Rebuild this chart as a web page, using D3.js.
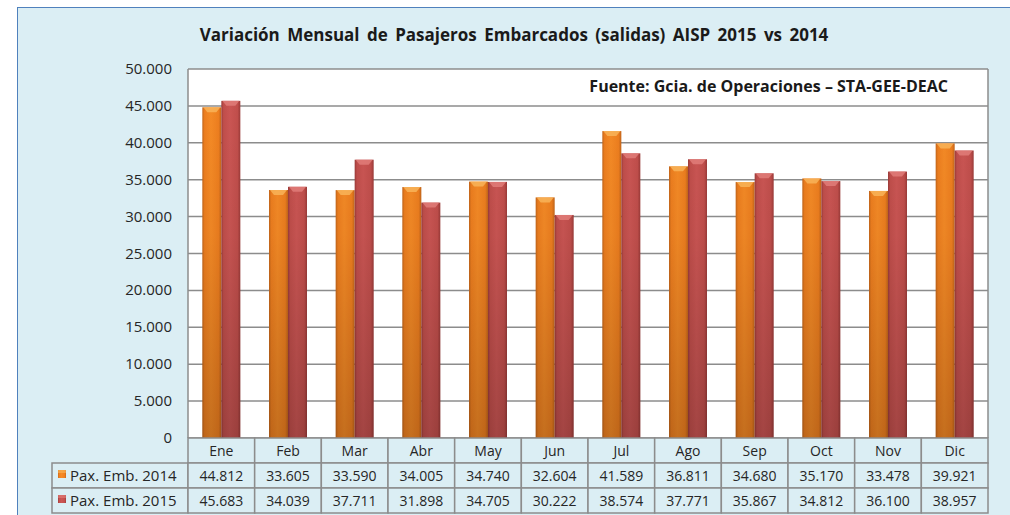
<!DOCTYPE html>
<html>
<head>
<meta charset="utf-8">
<script src="https://cdn.jsdelivr.net/npm/d3@7/dist/d3.min.js"></script>
<style>
  html, body { margin: 0; padding: 0; background: #ffffff; }
  svg { display: block; font-family: "Open Sans", Lato, sans-serif; }
</style>
</head>
<body>
<div id="chart"></div>
<script>
// Monthly departing passengers, 2014 vs 2015
const months = ['Ene', 'Feb', 'Mar', 'Abr', 'May', 'Jun', 'Jul', 'Ago', 'Sep', 'Oct', 'Nov', 'Dic'];
const pax2014 = [44812, 33605, 33590, 34005, 34740, 32604, 41589, 36811, 34680, 35170, 33478, 39921];
const pax2015 = [45683, 34039, 37711, 31898, 34705, 30222, 38574, 37771, 35867, 34812, 36100, 38957];
const seriesNames = ['Pax. Emb. 2014', 'Pax. Emb. 2015'];
const yTicks = [0, 5000, 10000, 15000, 20000, 25000, 30000, 35000, 40000, 45000, 50000];

const width = 1010, height = 515;
const plot = { left: 188, right: 988, top: 69, bottom: 438 };
const rowH = 25;

const svg = d3.select('#chart').append('svg')
    .attr('width', width)
    .attr('height', height);

const defs = svg.append('defs');

// cylinder-ish shading: horizontal gradient per series
function cylinder(id, dark, mid, light) {
    const g = defs.append('linearGradient').attr('id', id)
        .attr('x1', '0%').attr('x2', '100%').attr('y1', '0%').attr('y2', '0%');
    g.append('stop').attr('offset', '0%').attr('stop-color', dark);
    g.append('stop').attr('offset', '12%').attr('stop-color', mid);
    g.append('stop').attr('offset', '45%').attr('stop-color', light);
    g.append('stop').attr('offset', '85%').attr('stop-color', mid);
    g.append('stop').attr('offset', '100%').attr('stop-color', dark);
}
cylinder('g2014', '#c4661a', '#ef7f1f', '#f68b26');
cylinder('g2015', '#9c3b39', '#c24f4c', '#cc5654');

// darkening toward the base
const shade = defs.append('linearGradient').attr('id', 'shade')
    .attr('gradientUnits', 'userSpaceOnUse')
    .attr('x1', 0).attr('x2', 0).attr('y1', plot.top).attr('y2', plot.bottom);
shade.append('stop').attr('offset', '0%').attr('stop-color', '#000').attr('stop-opacity', 0);
shade.append('stop').attr('offset', '45%').attr('stop-color', '#000').attr('stop-opacity', 0.04);
shade.append('stop').attr('offset', '100%').attr('stop-color', '#000').attr('stop-opacity', 0.2);

// outer panel
svg.append('rect')
    .attr('x', 17.5).attr('y', 7.5)
    .attr('width', width).attr('height', height)
    .attr('fill', '#dbeef4')
    .attr('stroke', '#4f81bd')
    .attr('stroke-width', 1);

// title
svg.append('text')
    .attr('x', 514).attr('y', 41)
    .attr('text-anchor', 'middle')
    .attr('font-size', '17px')
    .attr('font-weight', 'bold')
    .attr('fill', '#1a1a1a')
    .attr('word-spacing', '3px')
    .text('Variación Mensual de Pasajeros Embarcados (salidas) AISP 2015 vs 2014');

// scales
const x = d3.scaleBand().domain(months)
    .range([plot.left, plot.right])
    .paddingInner(0.43).paddingOuter(0.215);
const xs = d3.scaleBand().domain([0, 1]).range([0, x.bandwidth()]);
const y = d3.scaleLinear().domain([0, 50000]).range([plot.bottom, plot.top]);
const fmt = v => d3.format(',')(v).replace(/,/g, '.');

// plot area
svg.append('rect')
    .attr('x', plot.left).attr('y', plot.top)
    .attr('width', plot.right - plot.left).attr('height', plot.bottom - plot.top)
    .attr('fill', '#ffffff');

svg.append('g').selectAll('line')
    .data(yTicks)
    .join('line')
    .attr('x1', plot.left).attr('x2', plot.right)
    .attr('y1', d => y(d)).attr('y2', d => y(d))
    .attr('stroke', '#8c8c8c')
    .attr('stroke-width', 1.5);

svg.append('line')
    .attr('x1', plot.left).attr('x2', plot.left)
    .attr('y1', plot.top).attr('y2', plot.bottom)
    .attr('stroke', '#8c8c8c').attr('stroke-width', 1.5);
svg.append('line')
    .attr('x1', plot.right).attr('x2', plot.right)
    .attr('y1', plot.top).attr('y2', plot.bottom)
    .attr('stroke', '#8c8c8c').attr('stroke-width', 1.5);

// y axis labels
svg.append('g').selectAll('text')
    .data(yTicks)
    .join('text')
    .attr('x', 172)
    .attr('y', d => y(d) + 5)
    .attr('text-anchor', 'end')
    .attr('font-size', '15px')
    .attr('fill', '#262626')
    .text(d => d === 0 ? '0' : fmt(d));

// bars
const series = [
    { name: seriesNames[0], values: pax2014, fill: 'url(#g2014)', cap: '#f9b75c' },
    { name: seriesNames[1], values: pax2015, fill: 'url(#g2015)', cap: '#e2807c' }
];

series.forEach(function(s, si) {
    const g = svg.append('g').attr('class', 'series-' + si);
    const bars = months.map((m, i) => ({ m: m, v: s.values[i] }));
    const bx = d => x(d.m) + xs(si);
    const bw = xs.bandwidth();

    g.selectAll('rect.bar')
        .data(bars)
        .join('rect')
        .attr('class', 'bar')
        .attr('x', bx)
        .attr('y', d => y(d.v))
        .attr('width', bw)
        .attr('height', d => y(0) - y(d.v))
        .attr('fill', s.fill);

    g.selectAll('rect.shade')
        .data(bars)
        .join('rect')
        .attr('class', 'shade')
        .attr('x', bx)
        .attr('y', d => y(d.v))
        .attr('width', bw)
        .attr('height', d => y(0) - y(d.v))
        .attr('fill', 'url(#shade)');

    // bevel on top
    g.selectAll('path.cap')
        .data(bars)
        .join('path')
        .attr('class', 'cap')
        .attr('d', function(d) {
            const x0 = bx(d), y0 = y(d.v);
            return 'M' + (x0 + 1) + ',' + y0 + 'L' + (x0 + bw - 1) + ',' + y0 +
                'L' + (x0 + bw - 5) + ',' + (y0 + 5) + 'L' + (x0 + 5) + ',' + (y0 + 5) + 'Z';
        })
        .attr('fill', s.cap)
        .attr('opacity', 0.8);
});

// source note
svg.append('text')
    .attr('x', 948).attr('y', 92)
    .attr('text-anchor', 'end')
    .attr('font-size', '16px')
    .attr('font-weight', 'bold')
    .attr('fill', '#1a1a1a')
    .text('Fuente: Gcia. de Operaciones – STA-GEE-DEAC');

// data table
const tableTop = plot.bottom;
const legendLeft = 52;
const border = '#8c8c8c';
const tbl = svg.append('g').attr('class', 'table');

const step = x.step();
const colLeft = i => plot.left + i * step;

// header row
tbl.selectAll('rect.head')
    .data(months)
    .join('rect')
    .attr('class', 'head')
    .attr('x', (d, i) => colLeft(i))
    .attr('y', tableTop)
    .attr('width', step).attr('height', rowH)
    .attr('fill', '#dbeef4')
    .attr('stroke', border).attr('stroke-width', 1.5);
tbl.selectAll('text.head')
    .data(months)
    .join('text')
    .attr('class', 'head')
    .attr('x', d => x(d) + x.bandwidth() / 2)
    .attr('y', tableTop + 18)
    .attr('text-anchor', 'middle')
    .attr('font-size', '14px')
    .attr('fill', '#262626')
    .text(d => d);

series.forEach(function(s, si) {
    const ry = tableTop + rowH * (si + 1);
    tbl.append('rect')
        .attr('x', legendLeft).attr('y', ry)
        .attr('width', plot.left - legendLeft).attr('height', rowH)
        .attr('fill', '#dbeef4')
        .attr('stroke', border).attr('stroke-width', 1.5);
    tbl.append('rect')
        .attr('x', legendLeft + 6).attr('y', ry + 7)
        .attr('width', 8).attr('height', 8)
        .attr('fill', s.fill);
    tbl.append('rect')
        .attr('x', legendLeft + 6).attr('y', ry + 7)
        .attr('width', 8).attr('height', 3)
        .attr('fill', s.cap).attr('opacity', 0.6);
    tbl.append('text')
        .attr('x', legendLeft + 18).attr('y', ry + 18)
        .attr('font-size', '15px')
        .attr('fill', '#262626')
        .text(s.name);

    tbl.selectAll('rect.cell' + si)
        .data(s.values)
        .join('rect')
        .attr('class', 'cell' + si)
        .attr('x', (d, i) => colLeft(i))
        .attr('y', ry)
        .attr('width', step).attr('height', rowH)
        .attr('fill', '#dbeef4')
        .attr('stroke', border).attr('stroke-width', 1.5);
    tbl.selectAll('text.cell' + si)
        .data(s.values)
        .join('text')
        .attr('class', 'cell' + si)
        .attr('x', (d, i) => x(months[i]) + x.bandwidth() / 2)
        .attr('y', ry + 18)
        .attr('text-anchor', 'middle')
        .attr('font-size', '14px')
        .attr('fill', '#262626')
        .text(d => fmt(d));
});
</script>
</body>
</html>
